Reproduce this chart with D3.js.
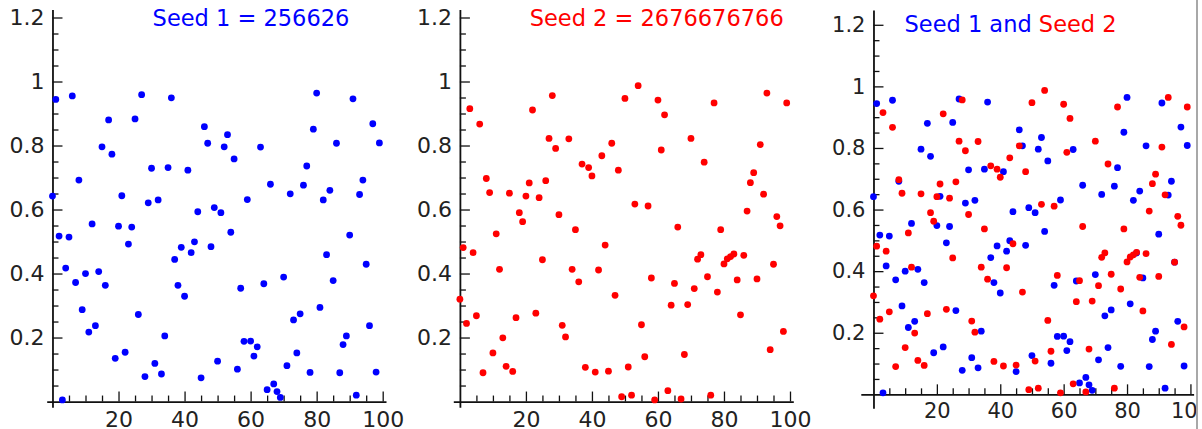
<!DOCTYPE html>
<html>
<head>
<meta charset="utf-8">
<script src="https://cdn.jsdelivr.net/npm/d3@7/dist/d3.min.js"></script>
<style>
  body { margin: 0; background: #fff; }
  svg { display: block; font-family: "DejaVu Sans", sans-serif; }
</style>
</head>
<body>
<svg></svg>
<script>
// the two random series, index 0..99 on the x axis
const seed1Values = [
  0.642, 0.944, 0.517, 0.005, 0.417, 0.514, 0.955, 0.372, 0.692, 0.287,
  0.400, 0.217, 0.555, 0.237, 0.406, 0.796, 0.363, 0.880, 0.773, 0.135,
  0.548, 0.643, 0.154, 0.492, 0.545, 0.883, 0.272, 0.959, 0.078, 0.621,
  0.729, 0.119, 0.630, 0.086, 0.205, 0.731, 0.949, 0.444, 0.363, 0.482,
  0.329, 0.723, 0.465, 0.499, 0.593, 0.074, 0.859, 0.807, 0.484, 0.606,
  0.126, 0.590, 0.796, 0.834, 0.529, 0.758, 0.101, 0.354, 0.188, 0.631,
  0.189, 0.142, 0.171, 0.795, 0.368, 0.037, 0.679, 0.055, 0.031, 0.013,
  0.389, 0.112, 0.649, 0.255, 0.152, 0.274, 0.676, 0.736, 0.091, 0.851,
  0.964, 0.294, 0.630, 0.459, 0.660, 0.378, 0.807, 0.090, 0.178, 0.205,
  0.520, 0.946, 0.020, 0.647, 0.692, 0.429, 0.237, 0.868, 0.092, 0.808
];

const seed2Values = [
  0.320, 0.481, 0.244, 0.915, 0.465, 0.268, 0.867, 0.090, 0.697, 0.653,
  0.152, 0.524, 0.413, 0.199, 0.110, 0.651, 0.094, 0.262, 0.590, 0.562,
  0.642, 0.683, 0.911, 0.276, 0.637, 0.443, 0.690, 0.822, 0.956, 0.791,
  0.584, 0.238, 0.202, 0.821, 0.413, 0.537, 0.374, 0.742, 0.107, 0.731,
  0.705, 0.092, 0.411, 0.768, 0.489, 0.095, 0.807, 0.332, 0.723, 0.015,
  0.947, 0.108, 0.020, 0.617, 0.987, 0.240, 0.140, 0.611, 0.386, 0.005,
  0.942, 0.786, 0.896, 0.034, 0.301, 0.369, 0.545, 0.008, 0.147, 0.303,
  0.822, 0.353, 0.445, 0.459, 0.748, 0.390, 0.020, 0.933, 0.342, 0.537,
  0.430, 0.446, 0.453, 0.461, 0.380, 0.271, 0.457, 0.595, 0.684, 0.715,
  0.383, 0.803, 0.648, 0.964, 0.162, 0.429, 0.578, 0.549, 0.219, 0.933
];

// tick values and their labels
const xTickValues = [20, 40, 60, 80, 100];
const xTickLabels = ["20", "40", "60", "80", "100"];
const yTickValues = [0.2, 0.4, 0.6, 0.8, 1, 1.2];
const yTickLabels = ["0.2", "0.4", "0.6", "0.8", "1", "1.2"];

const seed1Title = "Seed 1 = 256626";
const seed2Title = "Seed 2 = 2676676766";

const blue = "#0000ff";
const red = "#ff0000";

const width = 1202;
const height = 429;

const svg = d3.select("svg")
  .attr("width", width)
  .attr("height", height);

// minor ticks every 5 on x and every 0.05 on y
const xMinor = d3.range(5, 100, 5).filter(d => d % 20 !== 0);
const yMinor = d3.range(1, 25).map(d => d * 0.05).filter((d, i) => (i + 1) % 4 !== 0);

function drawPanel(p) {
  const x = d3.scaleLinear().domain(p.xDomain).range(p.xRange);
  const y = d3.scaleLinear().domain(p.yDomain).range(p.yRange);
  const g = svg.append("g");

  // minor ticks first
  g.append("g")
    .attr("transform", `translate(0,${y(0)})`)
    .call(d3.axisBottom(x).tickValues(xMinor).tickSizeInner(-6).tickSizeOuter(0).tickFormat(""))
    .call(a => a.select(".domain").remove());
  g.append("g")
    .attr("transform", `translate(${x(0)},0)`)
    .call(d3.axisLeft(y).tickValues(yMinor).tickSizeInner(-6).tickSizeOuter(0).tickFormat(""))
    .call(a => a.select(".domain").remove());

  // major x axis
  g.append("g")
    .attr("transform", `translate(0,${y(0)})`)
    .call(d3.axisBottom(x)
      .tickValues(xTickValues)
      .tickSizeInner(-10)
      .tickSizeOuter(0)
      .tickPadding(p.xPad)
      .tickFormat((d, i) => xTickLabels[i]));

  // major y axis
  g.append("g")
    .attr("transform", `translate(${x(0)},0)`)
    .call(d3.axisLeft(y)
      .tickValues(yTickValues)
      .tickSizeInner(-10)
      .tickSizeOuter(0)
      .tickPadding(p.yPad)
      .tickFormat((d, i) => yTickLabels[i]));

  g.selectAll(".tick line").attr("stroke", "#111").attr("stroke-width", 1.3);
  g.selectAll(".domain").attr("stroke", "#111").attr("stroke-width", 1.8);
  g.selectAll(".tick text")
    .attr("fill", "#222")
    .style("font-family", "DejaVu Sans, sans-serif")
    .style("font-size", p.fontSize + "px");

  // the dots
  p.series.forEach(s => {
    g.append("g")
      .selectAll("circle")
      .data(s.values)
      .enter()
      .append("circle")
      .attr("cx", (d, i) => x(i))
      .attr("cy", d => y(d))
      .attr("r", 3.4)
      .attr("fill", s.color);
  });

  // title
  const t = g.append("text")
    .attr("x", p.titleX)
    .attr("y", p.titleY)
    .attr("text-anchor", p.titleAnchor)
    .style("font-size", "22.5px");
  p.title.forEach(part => {
    t.append("tspan").attr("fill", part.color).text(part.text);
  });
}

drawPanel({
  xDomain: [-1.75, 101], xRange: [46.7, 386],
  yDomain: [-0.018, 1.225], yRange: [407.3, 9.5],
  xPad: 9.5, yPad: 8, fontSize: 22,
  series: [{ values: seed1Values, color: blue }],
  title: [{ text: seed1Title, color: blue }],
  titleX: 251, titleY: 26, titleAnchor: "middle"
});

drawPanel({
  xDomain: [-2, 101], xRange: [453.3, 793.3],
  yDomain: [-0.018, 1.225], yRange: [407.3, 9.5],
  xPad: 9.5, yPad: 8, fontSize: 22,
  series: [{ values: seed2Values, color: red }],
  title: [{ text: seed2Title, color: red }],
  titleX: 656.7, titleY: 26, titleAnchor: "middle"
});

drawPanel({
  xDomain: [-4, 101], xRange: [860.8, 1193.6],
  yDomain: [-0.045, 1.248], yRange: [408.2, 10],
  xPad: 9, yPad: 8, fontSize: 21,
  series: [{ values: seed1Values, color: blue }, { values: seed2Values, color: red }],
  title: [{ text: "Seed 1 and ", color: blue }, { text: "Seed 2", color: red }],
  titleX: 904.5, titleY: 31.7, titleAnchor: "start"
});

// grey frame edge at the right, the third plot is cut there
svg.append("rect")
  .attr("x", 1196)
  .attr("y", 0)
  .attr("width", 2)
  .attr("height", height)
  .attr("fill", "#a8a8a8");
svg.append("rect")
  .attr("x", 1198)
  .attr("y", 0)
  .attr("width", 4)
  .attr("height", height)
  .attr("fill", "#fff");
</script>
</body>
</html>
